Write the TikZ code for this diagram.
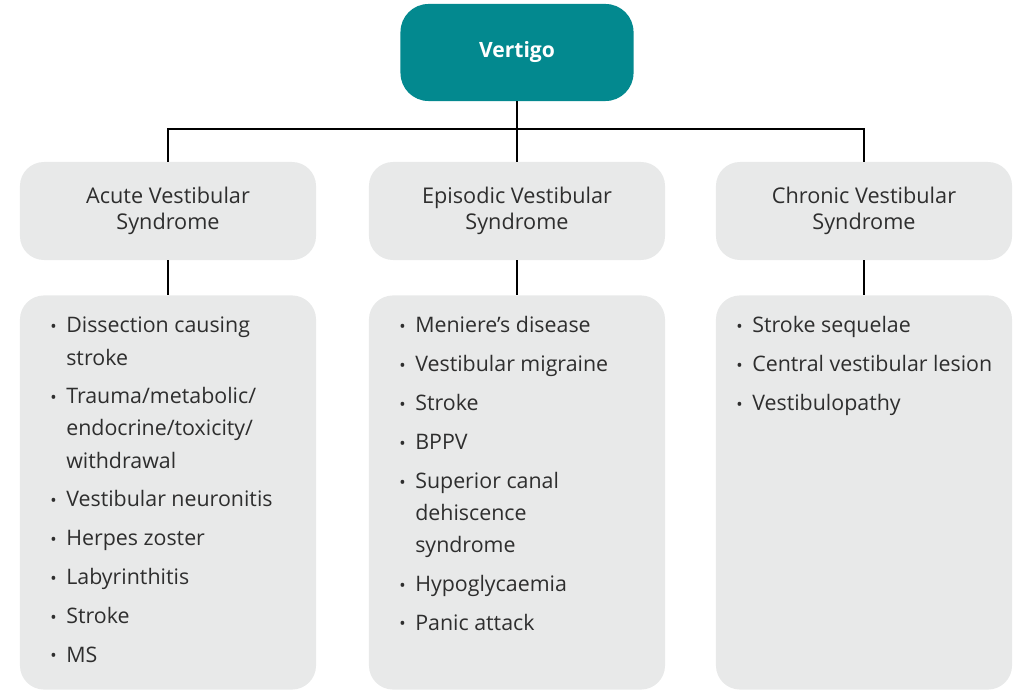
\documentclass[tikz,border=0pt]{standalone}
\usepackage{fontspec}
\setmainfont{Open Sans}

\definecolor{vteal}{HTML}{03898F}
\definecolor{boxgrey}{HTML}{E8E9E9}
\definecolor{txtgrey}{HTML}{2E2E2E}

\tikzset{
  topbox/.style={fill=vteal, rounded corners=0.7cm, minimum width=5.825cm, minimum height=2.425cm, text=white, font=\fontsize{15}{18}\selectfont\bfseries},
  catbox/.style={fill=boxgrey, rounded corners=0.6cm, minimum width=7.4cm, minimum height=2.45cm, text=txtgrey, align=center, font=\fontsize{15.4}{18.5}\selectfont},
  listbox/.style={fill=boxgrey, rounded corners=0.6cm, minimum width=7.4cm, minimum height=9.85cm},
  listtxt/.style={text=txtgrey, inner sep=0pt, anchor=base west, font=\fontsize{15.2}{22.8}\selectfont},
  wire/.style={line width=1.4pt, black}
}

\newcommand{\blt}{\makebox[0.4cm][l]{\raisebox{0.3pt}{\fontsize{12}{12}\selectfont\textbullet}}}

\begin{document}
\begin{tikzpicture}[x=0.025cm, y=0.025cm]

\useasboundingbox (0,0) rectangle (1025,691);

\coordinate (T) at (517, 638.5);
\coordinate (A) at (168, 480);
\coordinate (E) at (517, 480);
\coordinate (C) at (864, 480);
\coordinate (AL) at (168, 198.5);
\coordinate (EL) at (517, 198.5);
\coordinate (CL) at (864, 198.5);
\coordinate (bar) at (0, 562);

\node[topbox] (vertigo) at (T) {Vertigo};

\node[catbox] (acute) at (A) {Acute Vestibular\\Syndrome};
\node[catbox] (episodic) at (E) {Episodic Vestibular\\Syndrome};
\node[catbox] (chronic) at (C) {Chronic Vestibular\\Syndrome};

\node[listbox] (acutelist) at (AL) {};
\node[listbox] (episodiclist) at (EL) {};
\node[listbox] (chroniclist) at (CL) {};

\node[listtxt] (acutetxt) at (50, 358) {\begin{tabular}[t]{@{}l@{}l@{}}
\blt & Dissection causing\\
     & stroke\\[0.17cm]
\blt & Trauma/metabolic/\\
     & endocrine/toxicity/\\
     & withdrawal\\[0.17cm]
\blt & Vestibular neuronitis\\[0.17cm]
\blt & Herpes zoster\\[0.17cm]
\blt & Labyrinthitis\\[0.17cm]
\blt & Stroke\\[0.17cm]
\blt & MS
\end{tabular}};

\node[listtxt] (episodictxt) at (399, 358) {\begin{tabular}[t]{@{}l@{}l@{}}
\blt & Meniere’s disease\\[0.17cm]
\blt & Vestibular migraine\\[0.17cm]
\blt & Stroke\\[0.17cm]
\blt & BPPV\\[0.17cm]
\blt & Superior canal\\
     & dehiscence\\
     & syndrome\\[0.17cm]
\blt & Hypoglycaemia\\[0.17cm]
\blt & Panic attack
\end{tabular}};

\node[listtxt] (chronictxt) at (736, 358) {\begin{tabular}[t]{@{}l@{}l@{}}
\blt & Stroke sequelae\\[0.17cm]
\blt & Central vestibular lesion\\[0.17cm]
\blt & Vestibulopathy
\end{tabular}};

\draw[wire] (vertigo.south) -- (vertigo.south |- bar);
\draw[wire] (acute.north) |- (chronic.north |- bar) -- (chronic.north);
\draw[wire] (vertigo.south |- bar) -- (episodic.north);

\draw[wire] (acute.south) -- (acutelist.north);
\draw[wire] (episodic.south) -- (episodiclist.north);
\draw[wire] (chronic.south) -- (chroniclist.north);

\end{tikzpicture}
\end{document}
